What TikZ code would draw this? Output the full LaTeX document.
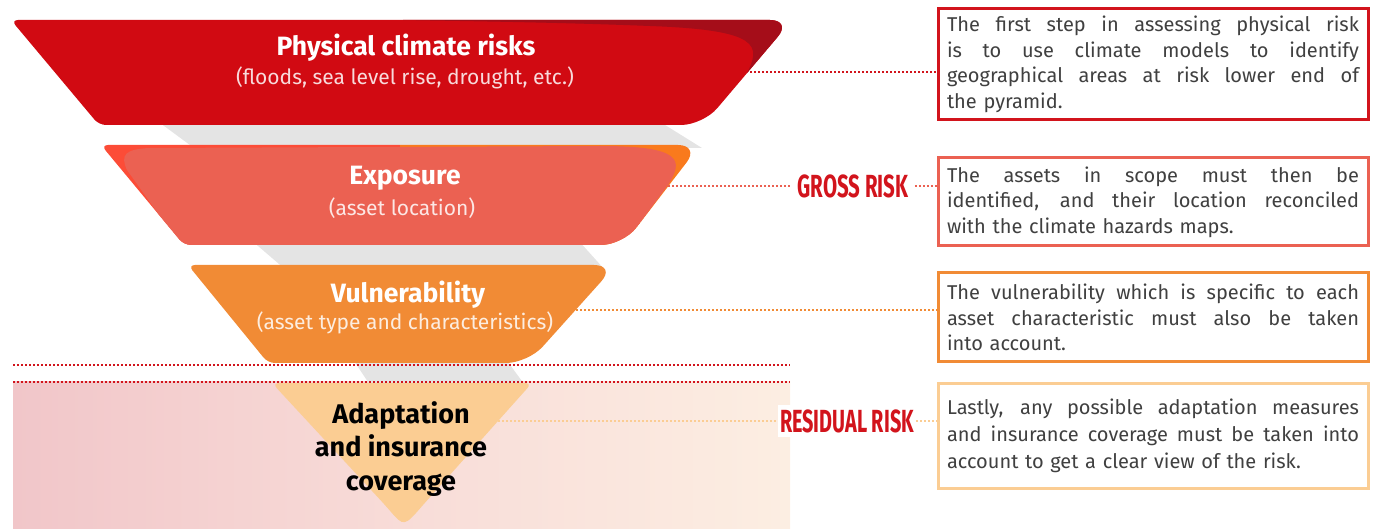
\documentclass[tikz,border=0pt]{standalone}
\usepackage{fontspec}
\setmainfont{Fira Sans}
\usepackage{graphicx}
\usetikzlibrary{calc}
\definecolor{cRed}{HTML}{D10A12}
\definecolor{cDark}{HTML}{A50D19}
\definecolor{cExpL}{HTML}{FC4C37}
\definecolor{cExpR}{HTML}{F97A1D}
\definecolor{cSalmon}{HTML}{EB6152}
\definecolor{cOrange}{HTML}{F18B35}
\definecolor{cPeach}{HTML}{FBCD93}
\definecolor{cGray}{HTML}{E4E4E4}
\definecolor{cLbl}{HTML}{D2141C}
\definecolor{cText}{HTML}{404040}
\definecolor{cBgL}{HTML}{F1C6C9}
\definecolor{cBgM}{HTML}{F8DCD8}
\definecolor{cBgR}{HTML}{FCEEE2}
% trapezoid: top y, bottom y, top-left x, top-right x, bottom-left x, bottom-right x
\newcommand\funnelpath[6]{($(#3,#1)!0.5!(#4,#1)$) [rounded corners=7pt] -- (#3,#1) -- (#5,#2) [rounded corners=22pt] -- (#6,#2) -- (#4,#1) [rounded corners=7pt] -- cycle}
\newcommand\jl[1]{\makebox[412pt][s]{\spaceskip=0pt\xspaceskip=0pt #1}}
\tikzset{
  title/.style={text=white, font=\fontsize{26.5}{30}\selectfont\bfseries, inner sep=0pt},
  subtitle/.style={text=white, text opacity=0.85, font=\fontsize{21}{24}\selectfont, inner sep=0pt},
  infobox/.style={draw, line width=3pt, fill=white, text width=412pt, inner xsep=9pt, inner ysep=0pt, minimum width=430pt, align=left, text=cText, font=\fontsize{20}{25.5}\selectfont},
  risklabel/.style={text=cLbl, font=\fontsize{32}{34}\selectfont\bfseries, inner sep=6pt},
  conn/.style={line width=2pt, dash pattern=on 2pt off 2pt},
}
\begin{document}
\begin{tikzpicture}[x=1pt, y=-1pt]
\useasboundingbox (0,0) rectangle (1377,529);
% background band
\shade[left color=cBgL, right color=cBgR, middle color=cBgM] (13,382) rectangle (790,529);
% gray shadow bands
\fill[cGray] (156,120) -- (657,120) -- (702,148) -- (194,148) -- cycle;
\fill[cGray] (251,240) -- (578,240) -- (605,270) -- (286,270) -- cycle;
\fill[cGray] (352,358) -- (505,358) -- (527,388) -- (372,388) -- cycle;
% level 1
\fill[cRed] \funnelpath{20}{125}{11}{792}{99}{703};
\begin{scope}
\clip \funnelpath{20}{125}{11}{792}{99}{703};
\fill[cDark] (403,19) -- (800,19) -- (800,75) -- (746,75) .. controls (762,45) and (760,30) .. (650,26) .. controls (550,22) and (450,21) .. (403,20) -- cycle;
\end{scope}
% level 2
\begin{scope}
\clip \funnelpath{145}{245}{101}{700}{184}{623};
\fill[cExpL] (90,140) rectangle (400,250);
\fill[cExpR] (400,140) rectangle (710,250);
\fill[cSalmon] (184,250) -- (127,170) .. controls (120,155) and (125,149) .. (150,148) -- (600,146) .. controls (682,146) and (684,160) .. (668,185) -- (620,250) -- cycle;
\end{scope}
% level 3
\fill[cOrange] \funnelpath{265}{363}{188}{616}{268}{528};
% level 4
\fill[cPeach] (400,383) [rounded corners=7pt] -- (272,383) -- (385,505) [sharp corners] .. controls (404,527) .. (423,505) [rounded corners=7pt] -- (532,383) -- cycle;
% texts in funnel
\node[title] (t1) at (406,48) {Physical climate risks};
\node[subtitle] (s1) at (405,78) {(floods, sea level rise, drought, etc.)};
\node[title] (t2) at (405,178) {Exposure};
\node[subtitle] (s2) at (402,208) {(asset location)};
\node[title] (t3) at (408,295) {Vulnerability};
\node[subtitle] (s3) at (405,323) {(asset type and characteristics)};
\node[title, text=black, align=center, font=\fontsize{27}{33.5}\selectfont\bfseries] (t4) at (401,449) {Adaptation\\and insurance\\coverage};
% separation lines
\coordinate (sepA) at (13,365);
\coordinate (sepB) at (13,382);
\coordinate (sepAe) at (790,365);
\coordinate (sepBe) at (790,382);
\draw[conn, cLbl] (sepA) -- (sepAe);
\draw[conn, cLbl] (sepB) -- (sepBe);
% info boxes
\node[infobox, draw=cLbl, minimum height=111pt] (b1) at (1153,64.5) {\jl{The first step in assessing physical risk}\\\jl{is to use climate models to identify}\\\jl{geographical areas at risk lower end of}\\the pyramid.};
\node[infobox, draw=cSalmon, minimum height=88pt] (b2) at (1153,202) {\jl{The assets in scope must then be}\\\jl{identified, and their location reconciled}\\with the climate hazards maps.};
\node[infobox, draw=cOrange, minimum height=89pt] (b3) at (1153,317.5) {\jl{The vulnerability which is specific to each}\\\jl{asset characteristic must also be taken}\\into account.};
\node[infobox, draw=cPeach, minimum height=104pt, font=\fontsize{20}{27}\selectfont] (b4) at (1153,436) {\jl{Lastly, any possible adaptation measures}\\\jl{and insurance coverage must be taken into}\\account to get a clear view of the risk.};
% risk labels
\node[risklabel] (gross) at (853,186) {\scalebox{0.64}[1]{GROSS RISK}};
\node[risklabel, fill=white, inner xsep=2pt, inner ysep=4pt] (resid) at (847,421) {\scalebox{0.62}[1]{RESIDUAL RISK}};
% connectors
\coordinate (p1) at (750,72);
\coordinate (p2) at (668,186);
\coordinate (p3) at (556,310);
\coordinate (p4) at (470,421);
\draw[conn, cLbl] (p1) -- (p1 -| b1.west);
\draw[conn, cSalmon] (p2) -- (gross.west);
\draw[conn, cSalmon] (gross.east) -- (gross.east -| b2.west);
\draw[conn, cOrange] (p3) -- (p3 -| b3.west);
\draw[conn, cPeach] (p4) -- (resid.west);
\draw[conn, cPeach] (resid.east) -- (resid.east -| b4.west);
\end{tikzpicture}
\end{document}
